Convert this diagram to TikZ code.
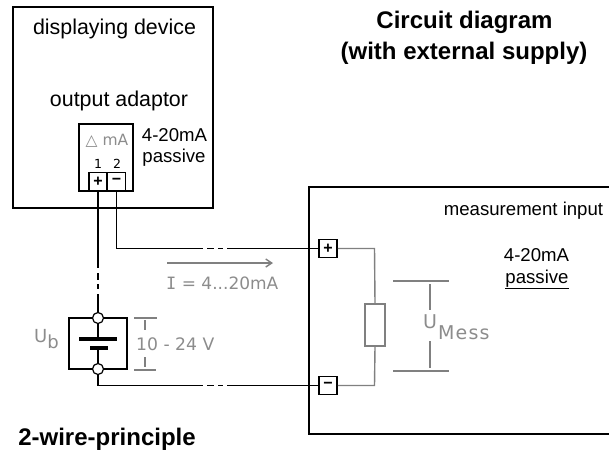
\documentclass[tikz,border=0pt]{standalone}
\usepackage{fontspec}
\usetikzlibrary{arrows.meta}
\setmainfont{Liberation Sans}
\newfontfamily\gfont{DejaVu Sans}
\newfontfamily\gfontsp[LetterSpace=6]{DejaVu Sans}
\newfontfamily\gmono{DejaVu Sans Mono}
\definecolor{gr}{HTML}{808080}
\definecolor{gt}{HTML}{8C8C8C}
\tikzset{
  x=1pt,y=-1pt,
  wire/.style={line width=1.8pt,black},
  gwire/.style={line width=1.4pt,gr},
  term/.style={draw=black,line width=1.6pt,minimum size=18pt,inner sep=0pt,fill=white,font=\bfseries\fontsize{16}{16}\selectfont},
  lab/.style={inner sep=0pt,anchor=base,font=\fontsize{21.4}{24}\selectfont},
  labs/.style={inner sep=0pt,anchor=base,font=\fontsize{18.6}{22}\selectfont},
  title/.style={inner sep=0pt,anchor=base,font=\bfseries\fontsize{24}{28}\selectfont},
  glab/.style={inner sep=0pt,anchor=base west,text=gt,font=\gfont\fontsize{17}{18}\selectfont},
  port/.style={circle,draw=black,line width=1.2pt,fill=white,minimum size=11pt,inner sep=0pt},
}
\begin{document}
\begin{tikzpicture}
\useasboundingbox (0,0) rectangle (609,450);
% boxes
\node[draw=black,line width=1.6pt,minimum width=200pt,minimum height=201pt,inner sep=0pt] (dev) at (113,107.5) {};
\coordinate (i1) at (612,187); \coordinate (i2) at (309,187); \coordinate (i3) at (309,434); \coordinate (i4) at (612,434);
\draw[line width=1.6pt] (i1) -- (i2) -- (i3) -- (i4);
\node[draw=black,line width=1.6pt,minimum width=54pt,minimum height=67pt,inner sep=0pt] (adp) at (106,157.5) {};
% adaptor terminals
\node[term] (tp) at (98,181.5) {+};
\node[term] (tm) at (116.5,181.5) {−};
% texts
\node[lab] (t1) at (114.5,34) {displaying device};
\node[lab] (t2) at (119,106) {output adaptor};
\node[labs] (t3) at (174.5,141) {4-20mA};
\node[labs] (t4) at (174,162) {passive};
\node[title] (t5) at (464.5,28) {Circuit diagram};
\node[title] (t5b) at (464,59) {(with external supply)};
\node[title] (t6) at (107,445) {2-wire-principle};
\node[labs] (t7) at (523.5,215) {measurement input};
\node[labs] (t8) at (536.5,261) {4-20mA};
\node[labs] (t9) at (537,283) {\underline{passive}};
\node[inner sep=0pt,anchor=base,text=gt,font=\gfont\fontsize{15.5}{16}\selectfont] (d1) at (107,145) {△ mA};
\node[inner sep=0pt,anchor=base,font=\gfont\fontsize{12.5}{13}\selectfont] (n1) at (98,168) {1};
\node[inner sep=0pt,anchor=base,font=\gfont\fontsize{12.5}{13}\selectfont] (n2) at (117,168) {2};
% right terminals
\node[term] (ip) at (328,248.5) {+};
\node[term] (im) at (328,385.5) {−};
% battery
\node[port] (bt) at (98,318) {};
\node[port] (bb) at (98,369) {};
\coordinate (bl1) at (69,318); \coordinate (br1) at (127,318);
\coordinate (bl2) at (69,369); \coordinate (br2) at (127,369);
\draw[line width=1.3pt] (bt.west) -- (bl1) -- (bl2) -- (bb.west);
\draw[line width=1.3pt] (bt.east) -- (br1) -- (br2) -- (bb.east);
\coordinate (pl) at (98,339); \coordinate (ps) at (98,348);
\draw[line width=1.5pt] (bt.south) -- (pl);
\draw[line width=1.5pt] (ps) -- (bb.north);
\draw[line width=3.2pt] (79,339) -- (117,339);
\draw[line width=3.2pt] (90,348) -- (108,348);
% wires
\draw[wire] (tp.south) -- (98,268);
\draw[wire] (98,273) -- (98,280);
\draw[wire] (98,284) -- (98,289);
\draw[wire] (98,294) -- (bt.north);
\draw[wire] (tm.south) -- (116.5,248.5) -- (203,248.5);
\draw[wire] (207,248.5) -- (214,248.5);
\draw[wire] (218,248.5) -- (223,248.5);
\draw[wire] (227,248.5) -- (ip.west);
\draw[wire] (bb.south) -- (98,385.5) -- (203,385.5);
\draw[wire] (207,385.5) -- (214,385.5);
\draw[wire] (218,385.5) -- (223,385.5);
\draw[wire] (227,385.5) -- (im.west);
% current arrow
\coordinate (a1) at (167,263); \coordinate (a2) at (273,263);
\draw[gwire,-{Straight Barb[length=6pt,width=8pt]}] (a1) -- (a2);
\node[glab] (cur) at (166,289) {{\gmono I} = 4...20mA};
% voltage
\node[glab,font=\gfont\fontsize{18}{20}\selectfont] (ub) at (34,342) {U\raisebox{-6pt}{b}};
\node[glab,font=\gfont\fontsize{17.2}{20}\selectfont] (v) at (136,350) {10 - 24 V};
\draw[gwire] (134,318) -- (157,318) (145,320) -- (145,330) (145,357) -- (145,367) (134,370) -- (156,370);
% measurement side
\node[draw=gr,line width=1.4pt,minimum width=20pt,minimum height=42pt,inner sep=0pt] (r) at (375,325) {};
\draw[gwire] (ip.east) -- (374.5,248.5) -- (r.north);
\draw[gwire] (im.east) -- (374.5,385.5) -- (r.south);
\draw[gwire] (393,281) -- (449,281) (430,284) -- (430,310) (430,341) -- (430,368) (393,371) -- (449,371);
\node[glab,font=\gfont\fontsize{19}{20}\selectfont] (um) at (423,328) {U};
\node[glab,font=\gfontsp\fontsize{19}{20}\selectfont] (mess) at (438,339) {Mess};
\end{tikzpicture}
\end{document}
